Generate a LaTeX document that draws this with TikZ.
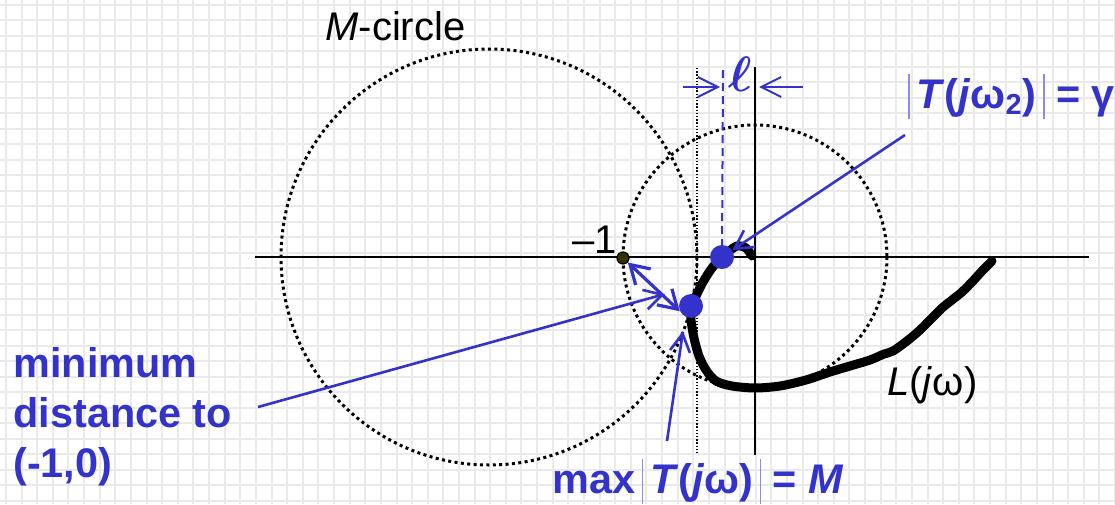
\documentclass[tikz,border=0pt]{standalone}
\usepackage{amsmath}
\usepackage{fontspec}
\setmainfont{Liberation Sans}
\usepackage{xcolor}
\usepackage{tikz}
\usetikzlibrary{calc,arrows.meta,positioning}
\definecolor{NyqBlue}{HTML}{3333CC}
\definecolor{NyqBar}{HTML}{8C8CE6}
\definecolor{NyqGrid}{HTML}{EAEAEA}
\definecolor{NyqOlive}{HTML}{333300}
\newcommand{\absbar}{\textcolor{NyqBar}{\rule[-5.5pt]{0.6pt}{22.5pt}}}

\tikzset{
  mdots/.style={line width=1.5pt, dash pattern=on 1.5pt off 1.7pt},
  callout/.style={NyqBlue, line width=1.3pt, -{Straight Barb[length=9pt,width=10pt]}},
  ellarrow/.style={NyqBlue, line width=1pt, -{Straight Barb[length=10pt,width=10pt]}},
  blabel/.style={text=NyqBlue, font=\fontsize{20.7}{25}\selectfont\bfseries, inner sep=0pt},
  klabel/.style={text=black, font=\fontsize{20}{24}\selectfont, inner sep=0pt},
  dotmark/.style={circle, fill=NyqBlue, minimum size=12pt, inner sep=0pt},
}

\begin{document}
\begin{tikzpicture}[x=0.5pt, y=-0.5pt]
\useasboundingbox (0,0) rectangle (1115,504);
\fill[white] (0,0) rectangle (1115,504);
\foreach \gx in {0,...,71}
  \draw[NyqGrid, line width=1pt] ({6+15.62*\gx},0) -- ({6+15.62*\gx},504);
\foreach \gy in {0,...,32}
  \draw[NyqGrid, line width=1pt] (0,{4.5+15.5*\gy}) -- (1115,{4.5+15.5*\gy});

\draw[mdots] (489,257) circle[radius=208];
\draw[mdots] (755,257) circle[radius=132];
\draw[line width=0.75pt] (255,257) -- (1089,257);
\draw[line width=0.75pt] (755,67) -- (755,455);
\draw[line width=0.7pt, dash pattern=on 0.7pt off 0.9pt] (697,68) -- (697,453);

\draw[line width=4.5pt, line cap=round, line join=round]
  plot[smooth, tension=0.5] coordinates {
    (752,256) (746,248) (737,246) (728,252) (722,257) (712,268) (703,282)
    (695,298) (691,306) (691,320) (694,338) (699,356) (706,370) (716,381)
    (732,386) (755,388) (780,386) (806,380) (830,372) (850,366) (870,360)
    (884,354) (893,351) (907,341) (920,330) (932,318) (942,308) (952,300)
    (962,292) (972,282) (983,270) (992,261)};

\node[circle, draw=black, line width=0.6pt, fill=NyqOlive, minimum size=6pt, inner sep=0pt] (m1) at (623,258) {};
\node[dotmark] (dot1) at (722,257) {};
\node[dotmark] (dot2) at (691,306) {};

\coordinate (dashtop) at (723,70);
\draw[NyqBlue, line width=1pt, dash pattern=on 4pt off 2.5pt] (dashtop) -- (dot1.center);

\coordinate (ellA) at (683,87);
\coordinate (ellB) at (720,87);
\coordinate (ellC) at (803,87);
\coordinate (ellD) at (759,87);
\draw[ellarrow] (ellA) -- (ellB);
\draw[ellarrow] (ellC) -- (ellD);

\node[text=NyqBlue, font=\fontsize{25}{28}\selectfont\boldmath, inner sep=0pt] (elllbl) at (740,74) {$\ell$};
\node[klabel, anchor=base west] (mcirc) at (325,40) {\textit{M}-circle};
\node[klabel, anchor=base east] (m1lbl) at (617,253) {–1};
\node[klabel, anchor=base west] (Llbl) at (887,395) {\textit{L}(\textit{j}ω)};
\node[blabel, anchor=base west] (gammalbl) at (908,108)
  {\absbar\,\textit{T}(\textit{j}ω\textsubscript{2})\,\absbar{} = γ};
\node[blabel, anchor=base west] (maxlbl) at (552,493)
  {max\,\absbar\,\textit{T}(\textit{j}ω)\,\absbar{} = \textit{M}};
\node[blabel, anchor=north west, align=left] (mindist) at (13,347)
  {minimum\\distance to\\(-1,0)};

\coordinate (gfoot) at (905,135);
\draw[callout] (gfoot) -- (dot1);
\coordinate (mdfoot) at (258,407);
\coordinate (mdtip) at (665,294);
\draw[callout] (mdfoot) -- (mdtip);
\coordinate (mxfoot) at (667,441);
\coordinate (mxtip) at (683,331);
\draw[callout] (mxfoot) -- (mxtip);
\draw[NyqBlue, line width=1.6pt, {Straight Barb[length=9pt,width=11pt]}-{Straight Barb[length=9pt,width=11pt]}] (m1) -- (dot2.205);
\end{tikzpicture}
\end{document}
